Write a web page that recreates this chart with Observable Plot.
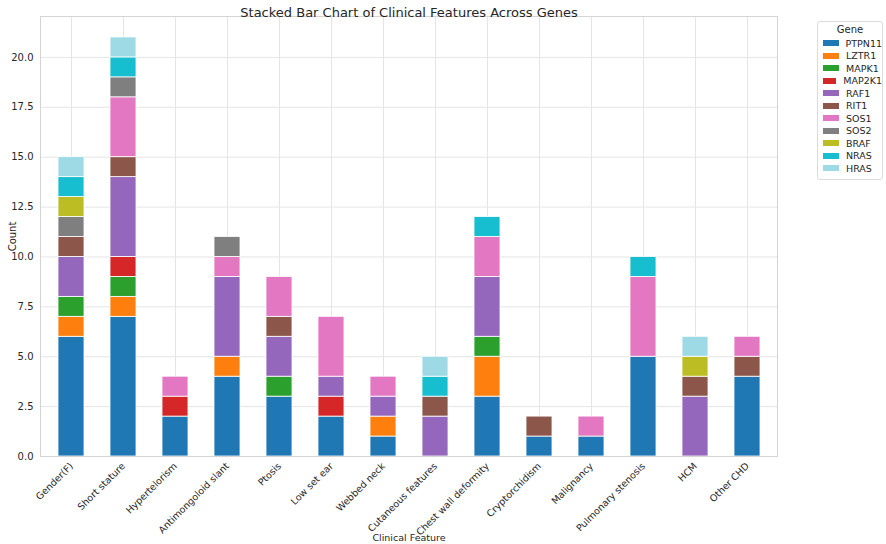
<!DOCTYPE html>
<html>
<head>
<meta charset="utf-8">
<script src="https://cdn.jsdelivr.net/npm/d3@7"></script>
<script src="https://cdn.jsdelivr.net/npm/@observablehq/plot@0.6"></script>
<style>
  body { margin: 0; background: #fff; font-family: "DejaVu Sans", sans-serif; }
  #chart { position: relative; width: 886px; height: 544px; }
  #legend {
    position: absolute; left: 817px; top: 21px; width: 64px;
    border: 1px solid #dcdcdc; border-radius: 3px; background: #fff;
    font-size: 9.5px; color: #262626; padding: 2px 0 4px 0;
  }
  #legend .title { text-align: center; margin-bottom: 2px; font-size: 10px; }
  #legend .row { display: flex; align-items: center; height: 12.5px; }
  #legend .sw { width: 16px; height: 6px; margin: 0 7px 0 5px; }
</style>
</head>
<body>
<div id="chart"></div>
<script>
// categories on the x axis
const features = ["Gender(F)", "Short stature", "Hypertelorism", "Antimongoloid slant", "Ptosis",
  "Low set ear", "Webbed neck", "Cutaneous features", "Chest wall deformity", "Cryptorchidism",
  "Malignancy", "Pulmonary stenosis", "HCM", "Other CHD"];

// genes, bottom to top of each stack
const genes = ["PTPN11", "LZTR1", "MAPK1", "MAP2K1", "RAF1", "RIT1", "SOS1", "SOS2", "BRAF", "NRAS", "HRAS"];
const geneColors = ["#1f77b4", "#ff7f0e", "#2ca02c", "#d62728", "#9467bd", "#8c564b",
  "#e377c2", "#7f7f7f", "#bcbd22", "#17becf", "#9edae5"];

// counts per gene, one value per feature
const PTPN11 = [6, 7, 2, 4, 3, 2, 1, 0, 3, 1, 1, 5, 0, 4];
const LZTR1  = [1, 1, 0, 1, 0, 0, 1, 0, 2, 0, 0, 0, 0, 0];
const MAPK1  = [1, 1, 0, 0, 1, 0, 0, 0, 1, 0, 0, 0, 0, 0];
const MAP2K1 = [0, 1, 1, 0, 0, 1, 0, 0, 0, 0, 0, 0, 0, 0];
const RAF1   = [2, 4, 0, 4, 2, 1, 1, 2, 3, 0, 0, 0, 3, 0];
const RIT1   = [1, 1, 0, 0, 1, 0, 0, 1, 0, 1, 0, 0, 1, 1];
const SOS1   = [0, 3, 1, 1, 2, 3, 1, 0, 2, 0, 1, 4, 0, 1];
const SOS2   = [1, 1, 0, 1, 0, 0, 0, 0, 0, 0, 0, 0, 0, 0];
const BRAF   = [1, 0, 0, 0, 0, 0, 0, 0, 0, 0, 0, 0, 1, 0];
const NRAS   = [1, 1, 0, 0, 0, 0, 0, 1, 1, 0, 0, 1, 0, 0];
const HRAS   = [1, 1, 0, 0, 0, 0, 0, 1, 0, 0, 0, 0, 1, 0];

const yTicks = [0, 2.5, 5, 7.5, 10, 12.5, 15, 17.5, 20];

const series = [PTPN11, LZTR1, MAPK1, MAP2K1, RAF1, RIT1, SOS1, SOS2, BRAF, NRAS, HRAS];

// build tidy rows for the stack
const rows = [];
genes.forEach((gene, gi) => {
  series[gi].forEach((count, fi) => {
    rows.push({feature: features[fi], gene: gene, count: count});
  });
});

const grid = "#e5e5e5";
const chart = Plot.plot({
  width: 886,
  height: 544,
  marginLeft: 40,
  marginRight: 109,
  marginTop: 16,
  marginBottom: 88,
  style: {fontFamily: "DejaVu Sans, sans-serif", fontSize: "10px", color: "#262626", background: "#fff"},
  x: {domain: features, paddingInner: 0.5, paddingOuter: 0.25},
  y: {domain: [0, 22.05]},
  color: {domain: genes, range: geneColors},
  marks: [
    Plot.gridX(features, {stroke: grid, strokeOpacity: 1}),
    Plot.gridY(yTicks, {stroke: grid, strokeOpacity: 1}),
    Plot.barY(rows, {x: "feature", y: "count", fill: "gene", stroke: "white", strokeWidth: 0.8}),
    Plot.frame({stroke: "#d4d4d4"}),
    Plot.axisX({tickRotate: -45, tickSize: 0, tickPadding: 8, fontSize: 9.5,
      label: "Clinical Feature", labelAnchor: "center", labelOffset: 84, labelArrow: "none"}),
    Plot.axisY(yTicks, {tickSize: 0, tickPadding: 7, tickFormat: d3.format(".1f"),
      label: "Count", labelAnchor: "center", labelOffset: 32, labelArrow: "none"}),
    Plot.text(["Stacked Bar Chart of Clinical Features Across Genes"], {
      frameAnchor: "top", dy: -9, fontSize: 13, fill: "#262626"
    })
  ]
});

document.querySelector("#chart").append(chart);

// legend box on the right
const legend = document.createElement("div");
legend.id = "legend";
legend.innerHTML = '<div class="title">Gene</div>' + genes.map((g, i) =>
  `<div class="row"><span class="sw" style="background:${geneColors[i]}"></span>${g}</div>`).join("");
document.querySelector("#chart").append(legend);
</script>
</body>
</html>
